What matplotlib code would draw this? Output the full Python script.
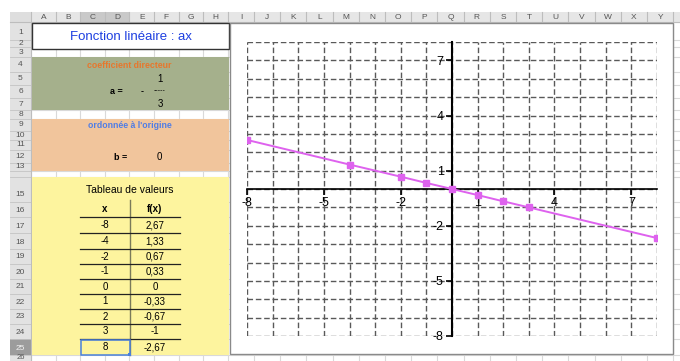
import matplotlib
matplotlib.use("Agg")
import matplotlib.pyplot as plt
from matplotlib.patches import Rectangle
from matplotlib.ticker import MultipleLocator
import numpy as np

plt.rcParams['font.family'] = ['Liberation Sans', 'DejaVu Sans']
plt.rcParams['axes.unicode_minus'] = False

# table / chart data
x_vals = [-8, -4, -2, -1, 0, 1, 2, 3, 8]
y_vals = [2.67, 1.33, 0.67, 0.33, 0, -0.33, -0.67, -1, -2.67]
y_labels = ["2,67", "1,33", "0,67", "0,33", "0", "-0,33", "-0,67", "-1", "-2,67"]
col_letters = list("ABCDEFGHIJKLMNOPQRSTUVWXY")
title = "Fonction linéaire : ax"

# spreadsheet geometry (pixels)
col_edges = [31 + 24.6 * i for i in range(9)]
col_edges += [col_edges[-1] + 26.2 * i for i in range(1, 18)]
row_edges = [22, 40, 47, 57, 72, 85, 98, 110, 119, 131, 140, 150, 163, 171,
             177, 202, 217, 233, 249, 264, 279, 294, 309, 324, 339, 355, 371]

fig = plt.figure(figsize=(6.8, 3.61), dpi=100)
bg = fig.add_axes([0, 0, 1, 1])
bg.set_xlim(0, 680)
bg.set_ylim(361, 0)
bg.axis("off")

# cell grid
for x in col_edges + [col_edges[-1] + 26.2]:
    bg.plot([x, x], [22, 361], color="#d9d9d9", lw=0.8, zorder=1)
for y in row_edges:
    bg.plot([31, 680], [y, y], color="#d9d9d9", lw=0.8, zorder=1)

# column header
bg.add_patch(Rectangle((10, 12), 670, 10, facecolor="#e6e6e6", edgecolor="none", zorder=2))
bg.add_patch(Rectangle((10, 12), 21, 10, facecolor="#dedede", edgecolor="none", zorder=2))
for i, c in enumerate(col_letters):
    x0, x1 = col_edges[i], col_edges[i + 1]
    if c in "CD":
        bg.add_patch(Rectangle((x0, 12), x1 - x0, 10, facecolor="#c9c9c9", edgecolor="none", zorder=2))
    bg.plot([x1, x1], [12, 22], color="#bdbdbd", lw=0.8, zorder=3)
    bg.text((x0 + x1) / 2, 17.3, c, ha="center", va="center", fontsize=6, color="#555555", zorder=4)
bg.plot([10, 680], [22, 22], color="#bdbdbd", lw=0.8, zorder=3)

# row header
bg.add_patch(Rectangle((10, 22), 21, 339, facecolor="#e2e2e2", edgecolor="none", zorder=2))
for r in range(len(row_edges) - 1):
    y0, y1 = row_edges[r], row_edges[r + 1]
    if r == 24:
        bg.add_patch(Rectangle((10, y0), 21, y1 - y0, facecolor="#9c9c9c", edgecolor="none", zorder=2))
    bg.plot([10, 31], [y1, y1], color="#c4c4c4", lw=0.6, zorder=3)
    if r == 13:
        continue
    ly = y1 - min(7, (y1 - y0) / 2)
    if r == 25:
        ly = 357.5
    bg.text(20.5, ly, str(r + 1), ha="center", va="center",
            fontsize=5.5 if r == 25 else 6,
            color="#f4f4f4" if r == 24 else "#555555", zorder=4)
bg.plot([31, 31], [12, 361], color="#bdbdbd", lw=0.8, zorder=3)

# coloured blocks
bg.add_patch(Rectangle((32, 23), 197, 26, facecolor="white", edgecolor="#333333", lw=1.0, zorder=5))
bg.text(130.5, 37, title, ha="center", va="center", fontsize=9.5, color="#1d3fe0", zorder=6)

bg.add_patch(Rectangle((32, 57), 197, 53, facecolor="#a5b08c", edgecolor="none", zorder=5))
bg.text(129, 66, "coefficient directeur", ha="center", va="center", fontsize=6.3,
        color="#e8762c", fontweight="bold", zorder=6)
bg.text(116, 91.5, "a =", ha="center", va="center", fontsize=6.5, fontweight="bold", zorder=6)
bg.text(142, 91.5, "-", ha="center", va="center", fontsize=6.5, fontweight="bold", zorder=6)
bg.text(160, 79, "1", ha="center", va="center", fontsize=7, zorder=6)
bg.text(160, 90.5, "-----", ha="center", va="center", fontsize=5, zorder=6)
bg.text(160, 104, "3", ha="center", va="center", fontsize=7, zorder=6)

bg.add_patch(Rectangle((32, 119), 197, 52, facecolor="#f1c59c", edgecolor="none", zorder=5))
bg.text(129.5, 126, "ordonnée à l'origine", ha="center", va="center", fontsize=6.3,
        color="#4f7de6", fontweight="bold", zorder=6)
bg.text(121, 157, "b =", ha="center", va="center", fontsize=6.5, fontweight="bold", zorder=6)
bg.text(159, 157, "0", ha="center", va="center", fontsize=7, zorder=6)

bg.add_patch(Rectangle((32, 177), 197, 178, facecolor="#fdf49e", edgecolor="none", zorder=5))
bg.text(130, 190, "Tableau de valeurs", ha="center", va="center", fontsize=7.5, zorder=6)
bg.text(105, 209.5, "x", ha="center", va="center", fontsize=7, fontweight="bold", zorder=6)
bg.text(155, 209.5, "f(x)", ha="center", va="center", fontsize=7, fontweight="bold", zorder=6)
bg.plot([129.5, 129.5], [200, 355], color="#7a7a5a", lw=1.0, zorder=6)
for i, (xv, lab) in enumerate(zip(x_vals, y_labels)):
    y0, y1 = row_edges[16 + i], row_edges[17 + i]
    bg.plot([80, 180], [y0, y0], color="#222222", lw=0.9, zorder=6)
    bg.text(105, (y0 + y1) / 2, str(xv), ha="center", va="center", fontsize=7, zorder=6)
    bg.text(155, (y0 + y1) / 2, lab, ha="center", va="center", fontsize=7, zorder=6)
# selected cell
bg.add_patch(Rectangle((80.5, 339.5), 49, 15, facecolor="none", edgecolor="#4a80dc", lw=1.1, zorder=7))
bg.add_patch(Rectangle((127.5, 352.5), 3.5, 3.5, facecolor="#4a80dc", edgecolor="none", zorder=7))

# chart area
bg.add_patch(Rectangle((229.5, 22.5), 443.5, 331.5, facecolor="white", edgecolor="#8a8a8a", lw=1.0, zorder=5))

ax = fig.add_axes([247 / 680, 25 / 361, 410 / 680, 294 / 361])
ax.set_facecolor("none")
ax.set_xlim(-8, 8)
ax.set_ylim(-8, 8)
ax.plot(x_vals, y_vals, color="#de62ee", lw=1.4, marker="s", markersize=5, zorder=5)

ax.xaxis.set_major_locator(MultipleLocator(3, offset=1))
ax.yaxis.set_major_locator(MultipleLocator(3, offset=1))
ax.xaxis.set_minor_locator(MultipleLocator(1))
ax.yaxis.set_minor_locator(MultipleLocator(1))
ax.grid(which="both", color="#595959", linestyle=(0, (4, 2)), lw=1.0)
for gl in ax.get_xgridlines() + ax.get_ygridlines():
    gl.set_clip_on(False)
for gl in ax.xaxis.get_minorticklines() + ax.yaxis.get_minorticklines():
    gl.set_visible(False)
ax.set_axisbelow(True)

ax.spines["left"].set_position(("data", 0))
ax.spines["bottom"].set_position(("data", 0))
ax.spines["top"].set_visible(False)
ax.spines["right"].set_visible(False)
ax.spines["left"].set_linewidth(1.5)
ax.spines["bottom"].set_linewidth(1.2)
ax.tick_params(which="major", direction="out", length=4, width=1.2, labelsize=9, pad=2)
ax.tick_params(which="minor", length=0)

fig.savefig("out.png", dpi=100)
